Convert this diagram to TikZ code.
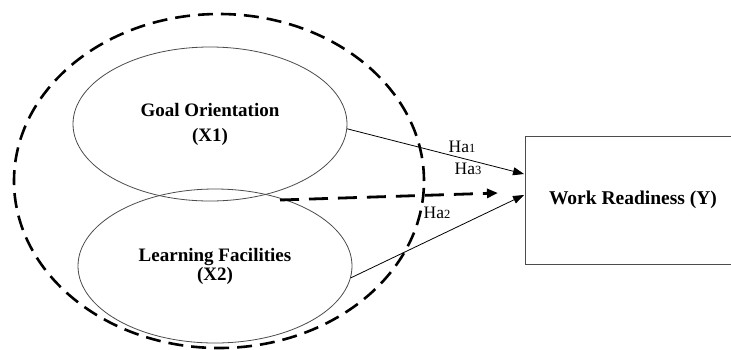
\documentclass[tikz,border=0pt]{standalone}
\usepackage{fontspec}
\setmainfont{Liberation Serif}
\usetikzlibrary{shapes.geometric,arrows.meta}

\tikzset{
  var/.style={draw=black!70,ellipse,line width=0.8pt,inner sep=0pt,
    minimum width=274pt,minimum height=154pt,align=center,
    font=\fontsize{19}{21}\selectfont\bfseries},
  hyp/.style={font=\fontsize{17.5}{19}\selectfont,inner sep=0pt},
  link/.style={line width=0.8pt,-{Triangle[length=11pt,width=8pt]}}
}
\newcommand{\hlab}[1]{Ha{\fontsize{12.5}{13}\selectfont #1}}

\begin{document}
\begin{tikzpicture}[x=1pt,y=-1pt]
\useasboundingbox (0,0) rectangle (731,349);
\fill[white] (0,0) rectangle (731,349);
% outer group
\node[draw,ellipse,line width=2.6pt,dash pattern=on 15pt off 8pt,
  minimum width=410pt,minimum height=334pt] (group) at (219,181) {};
% latent variables
\node[var] (goal) at (210,124) {Goal Orientation\\[4pt](X1)};
\node[var] (facil) at (215,266) {Learning Facilities\\[-2pt](X2)};
\node[draw=black!70,line width=0.8pt,minimum width=216pt,minimum height=128pt,
  font=\fontsize{19.5}{21}\selectfont\bfseries] (ready) at (633,200) {Work Readiness (Y)};
% connectors
\coordinate (t1) at (524,174);
\coordinate (t2) at (524,195);
\coordinate (s3) at (280,200);
\coordinate (t3) at (498,193);
\draw[link] (goal.-2) -- (t1);
\draw[link] (facil.-5) -- (t2);
\draw[line width=2.8pt,dash pattern=on 19pt off 10pt,
  -{Triangle[length=11pt,width=9pt]}] (s3) -- (t3);
% labels
\node[hyp] (ha1) at (462,147) {\hlab{1}};
\node[hyp] (ha3) at (468,169) {\hlab{3}};
\node[hyp] (ha2) at (437,213) {\hlab{2}};
\end{tikzpicture}
\end{document}
